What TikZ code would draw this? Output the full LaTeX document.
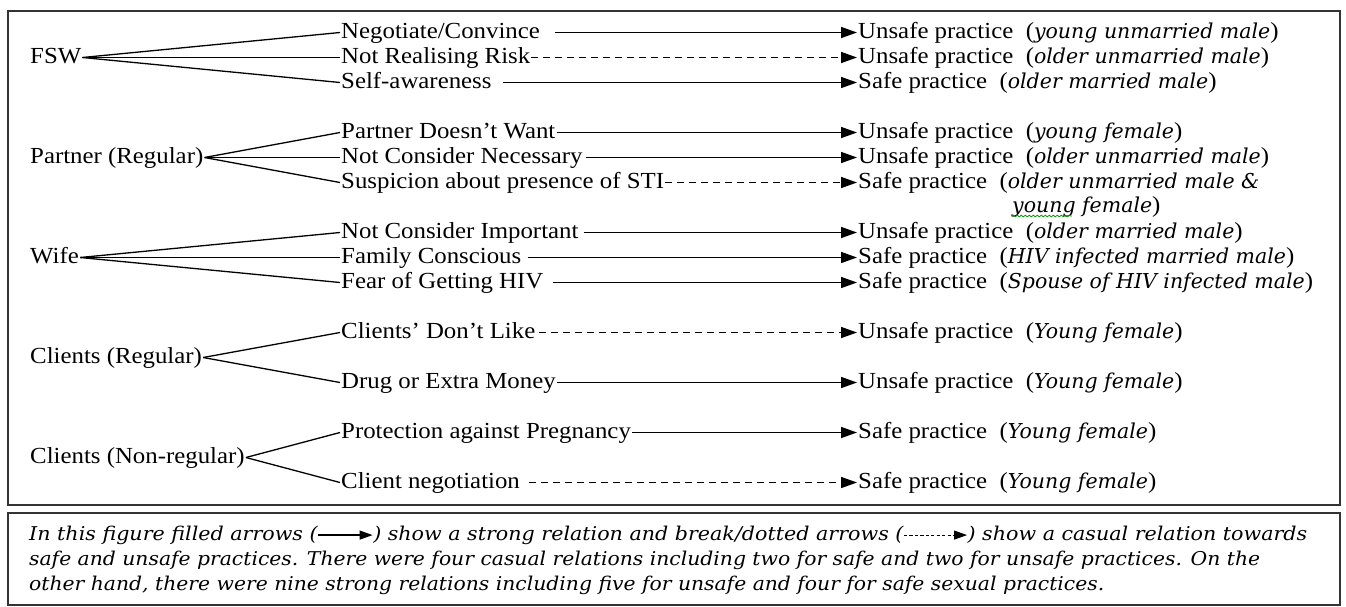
\documentclass[tikz,border=0pt]{standalone}
\usepackage{fontspec}
\setmainfont{Liberation Serif}[FakeStretch=1.08]
\newfontfamily\itf{DejaVu Serif}
\usetikzlibrary{arrows.meta,decorations.pathmorphing}
\newcommand\myit[1]{{\itf\itshape\fontsize{20.5}{25}\selectfont #1}}
\newcommand\solidarr{\tikz[baseline=-0.5ex]\draw[line width=1.2pt,-{Triangle[length=12pt,width=9pt]}] (0pt,0pt) -- (50pt,0pt);}
\newcommand\dasharr{\tikz[baseline=-0.5ex]\draw[line width=1.1pt,dash pattern=on 3pt off 2pt,-{Triangle[length=12pt,width=9pt]}] (0pt,0pt) -- (58pt,0pt);}
\newcommand\fitline[2]{\resizebox{#1}{\height}{#2}}
\tikzset{
  frame/.style={draw=black!80, line width=1.6pt},
  txt/.style={anchor=base west, inner xsep=1pt, inner ysep=0pt, text height=16pt, text depth=5pt, font=\fontsize{23}{25}\selectfont},
  fan/.style={line width=1.3pt},
  strong/.style={line width=1.5pt, -{Triangle[length=16pt,width=11pt]}},
  casual/.style={strong, dash pattern=on 7pt off 5pt},
  note/.style={anchor=base west, inner sep=0pt, font=\itf\itshape\fontsize{19}{20}\selectfont},
}
\begin{document}
\begin{tikzpicture}[x=1pt,y=-1pt]
\useasboundingbox (0,0) rectangle (1346,606);
\draw[frame] (8,11) rectangle (1340,505);
\draw[frame] (8,513) rectangle (1340,605);

% sources
\node[txt] (fsw) at (29,63) {FSW};
\node[txt] (par) at (29,163) {Partner (Regular)};
\node[txt] (wif) at (29,263) {Wife};
\node[txt] (cre) at (29,363) {Clients (Regular)};
\node[txt] (cnr) at (29,463) {Clients (Non-regular)};

% reasons
\node[txt] (m1) at (340,38) {Negotiate/Convince};
\node[txt] (m2) at (340,63) {Not Realising Risk};
\node[txt] (m3) at (340,88) {Self-awareness};
\node[txt] (m4) at (340,138) {Partner Doesn’t Want};
\node[txt] (m5) at (340,163) {Not Consider Necessary};
\node[txt] (m6) at (340,188) {Suspicion about presence of STI};
\node[txt] (m7) at (340,238) {Not Consider Important};
\node[txt] (m8) at (340,263) {Family Conscious};
\node[txt] (m9) at (340,288) {Fear of Getting HIV};
\node[txt] (m10) at (340,338) {Clients’ Don’t Like};
\node[txt] (m11) at (340,388) {Drug or Extra Money};
\node[txt] (m12) at (340,438) {Protection against Pregnancy};
\node[txt] (m13) at (340,488) {Client negotiation};

% outcomes
\node[txt] (r1) at (857,38) {Unsafe practice~ (\myit{young unmarried male})};
\node[txt] (r2) at (857,63) {Unsafe practice~ (\myit{older unmarried male})};
\node[txt] (r3) at (857,88) {Safe practice~ (\myit{older married male})};
\node[txt] (r4) at (857,138) {Unsafe practice~ (\myit{young female})};
\node[txt] (r5) at (857,163) {Unsafe practice~ (\myit{older unmarried male})};
\node[txt] (r6) at (857,188) {Safe practice~ (\myit{older unmarried male \&}};
\node[txt] (r6b) at (1011,212) {\myit{young female})};
\node[txt] (r7) at (857,238) {Unsafe practice~ (\myit{older married male})};
\node[txt] (r8) at (857,263) {Safe practice~ (\myit{HIV infected married male})};
\node[txt] (r9) at (857,288) {Safe practice~ (\myit{Spouse of HIV infected male})};
\node[txt] (r10) at (857,338) {Unsafe practice~ (\myit{Young female})};
\node[txt] (r11) at (857,388) {Unsafe practice~ (\myit{Young female})};
\node[txt] (r12) at (857,438) {Safe practice~ (\myit{Young female})};
\node[txt] (r13) at (857,488) {Safe practice~ (\myit{Young female})};

\draw[green!60!black, line width=0.8pt, decorate, decoration={snake, amplitude=0.8pt, segment length=4pt}]
  ([xshift=1pt,yshift=-4pt]r6b.base west) -- ++(60,0);

% fans
\foreach \s/\m in {fsw/m1,fsw/m2,fsw/m3,par/m4,par/m5,par/m6,wif/m7,wif/m8,wif/m9,cre/m10,cre/m11,cnr/m12,cnr/m13}
  \draw[fan] (\s.east) -- (\m.west);

% relations
\draw[strong] ([xshift=14pt]m1.east) -- (r1.west);
\draw[casual] (m2.east) -- (r2.west);
\draw[strong] ([xshift=10pt]m3.east) -- (r3.west);
\draw[strong] (m4.east) -- (r4.west);
\draw[strong] ([xshift=2pt]m5.east) -- (r5.west);
\draw[casual] (m6.east) -- (r6.west);
\draw[strong] ([xshift=4pt]m7.east) -- (r7.west);
\draw[strong] ([xshift=5pt]m8.east) -- (r8.west);
\draw[strong] ([xshift=8pt]m9.east) -- (r9.west);
\draw[casual] ([xshift=2pt]m10.east) -- (r10.west);
\draw[strong] (m11.east) -- (r11.west);
\draw[strong] (m12.east) -- (r12.west);
\draw[casual] ([xshift=8pt]m13.east) -- (r13.west);

% note
\node[note] (n1) at (29,540) {\fitline{1278pt}{In this figure filled arrows (\solidarr) show a strong relation and break/dotted arrows (\dasharr) show a casual relation towards}};
\node[note] (n2) at (29,565) {\fitline{1231pt}{safe and unsafe practices. There were four casual relations including two for safe and two for unsafe practices. On the}};
\node[note] (n3) at (29,590) {\fitline{1075pt}{other hand, there were nine strong relations including five for unsafe and four for safe sexual practices.}};
\end{tikzpicture}
\end{document}
